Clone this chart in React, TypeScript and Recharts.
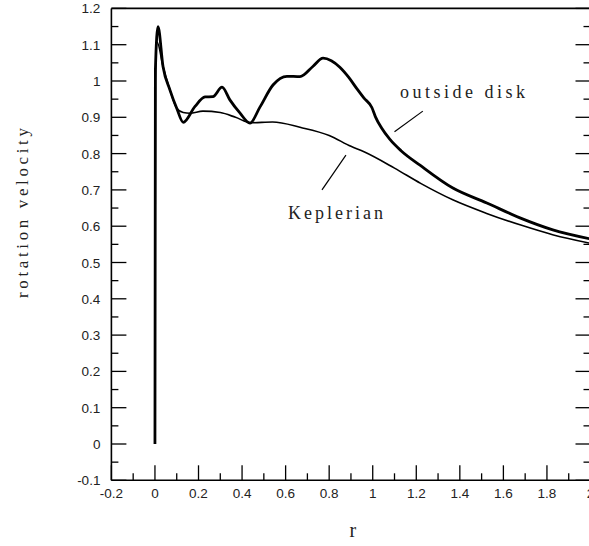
import React from 'react';
import { LineChart, Line, XAxis, YAxis, ReferenceLine, ReferenceDot } from 'recharts';

// [r, velocity]
const outsideDisk: [number, number][] = [
  [0, 0], [0.002, 1.03], [0.014, 1.15], [0.037, 1.04], [0.069, 0.975], [0.1, 0.925],
  [0.13, 0.886], [0.184, 0.93], [0.23, 0.956], [0.266, 0.957], [0.308, 0.983],
  [0.344, 0.948], [0.39, 0.912], [0.436, 0.884], [0.482, 0.928], [0.542, 0.989],
  [0.606, 1.013], [0.666, 1.012], [0.725, 1.04], [0.772, 1.063], [0.81, 1.056],
  [0.849, 1.038], [0.89, 1.01], [0.927, 0.979], [0.96, 0.953], [0.996, 0.927],
  [1.012, 0.902], [1.04, 0.871], [1.079, 0.839], [1.13, 0.808],
  [1.217, 0.768], [1.368, 0.705], [1.524, 0.664], [1.676, 0.623], [1.827, 0.59], [2.0, 0.565],
];

const keplerian: [number, number][] = [
  [0, 0], [0.002, 1.0], [0.01, 1.107], [0.037, 1.04], [0.069, 0.975], [0.1, 0.925],
  [0.13, 0.913], [0.16, 0.911], [0.22, 0.917], [0.3, 0.913], [0.37, 0.9], [0.44, 0.885],
  [0.54, 0.887], [0.67, 0.872], [0.8, 0.85], [0.9, 0.82], [0.96, 0.805], [1.1, 0.76],
  [1.22, 0.718], [1.37, 0.672], [1.52, 0.636], [1.68, 0.603], [1.83, 0.576], [2.0, 0.553],
];

const X_TICKS = [-0.2, -0.1, 0, 0.1, 0.2, 0.3, 0.4, 0.5, 0.6, 0.7, 0.8, 0.9, 1, 1.1, 1.2, 1.3, 1.4, 1.5, 1.6, 1.7, 1.8, 1.9, 2];
const Y_TICKS = [-0.1, -0.05, 0, 0.05, 0.1, 0.15, 0.2, 0.25, 0.3, 0.35, 0.4, 0.45, 0.5, 0.55, 0.6, 0.65, 0.7, 0.75, 0.8, 0.85, 0.9, 0.95, 1, 1.05, 1.1, 1.15, 1.2];

const toRows = (pts: [number, number][]) => pts.map(([r, v]) => ({ r, v }));
const outsideRows = toRows(outsideDisk);
const keplerRows = toRows(keplerian);

const isMajorX = (v: number) => Math.round(v * 10) % 2 === 0;
const isMajorY = (v: number) => Math.round(v * 20) % 2 === 0;
const fmt = (v: number) => String(Math.round(v * 10) / 10);

const MAJOR = 15;
const MINOR = 7;
const TICK_FONT = { fontFamily: '"Liberation Sans", Arial, sans-serif', fontSize: 13.5, fill: '#222' };
const SERIF = '"Liberation Serif", "DejaVu Serif", serif';

const BottomTick = ({ x, y, payload }: any) => {
  const major = isMajorX(payload.value);
  return (
    <g>
      <line x1={x} y1={y} x2={x} y2={y - (major ? MAJOR : MINOR)} stroke="#000" strokeWidth={1.3} />
      {major && (
        <text x={x} y={y + 18} textAnchor="middle" {...TICK_FONT}>{fmt(payload.value)}</text>
      )}
    </g>
  );
};

const TopTick = ({ x, y, payload }: any) => (
  <line x1={x} y1={y} x2={x} y2={y + (isMajorX(payload.value) ? MAJOR : MINOR)} stroke="#000" strokeWidth={1.3} />
);

const LeftTick = ({ x, y, payload }: any) => {
  const major = isMajorY(payload.value);
  return (
    <g>
      <line x1={x} y1={y} x2={x + (major ? MAJOR : MINOR)} y2={y} stroke="#000" strokeWidth={1.3} />
      {major && (
        <text x={x - 11} y={y + 5} textAnchor="end" {...TICK_FONT}>{fmt(payload.value)}</text>
      )}
    </g>
  );
};

const RightTick = ({ x, y, payload }: any) => (
  <line x1={x} y1={y} x2={x - (isMajorY(payload.value) ? MAJOR : MINOR)} y2={y} stroke="#000" strokeWidth={1.3} />
);

const note = (text: string, len: number) => (props: any) => {
  const vb = props.viewBox || {};
  return (
    <text x={vb.x} y={vb.y} fontFamily={SERIF} fontSize={18} fill="#222" textLength={len} lengthAdjust="spacing">
      {text}
    </text>
  );
};

const XLabel = (props: any) => {
  const vb = props.viewBox;
  return (
    <text x={vb.x + vb.width / 2 + 2} y={vb.y + vb.height - 9} textAnchor="middle" fontFamily={SERIF} fontSize={20} fill="#222">r</text>
  );
};

const YLabel = (props: any) => {
  const vb = props.viewBox;
  const cx = vb.x + 28;
  const cy = 213;
  return (
    <text x={cx} y={cy} transform={`rotate(-90, ${cx}, ${cy})`} textAnchor="middle" fontFamily={SERIF} fontSize={17} fill="#222" textLength={170} lengthAdjust="spacing">
      rotation velocity
    </text>
  );
};

export default function App() {
  return (
    <div style={{ position: 'absolute', left: 0, top: 0, width: 589, height: 546, overflow: 'hidden', background: '#fff' }}>
      <LineChart width={600} height={546} margin={{ top: 0, right: 0, bottom: 0, left: 0 }}>
        <XAxis
          xAxisId={0}
          dataKey="r"
          type="number"
          domain={[-0.2, 2]}
          ticks={X_TICKS}
          interval={0}
          allowDataOverflow
          height={65.7}
          tickSize={0}
          tickMargin={0}
          tickLine={false}
          axisLine={{ stroke: '#000', strokeWidth: 1.6 }}
          tick={<BottomTick />}
          label={<XLabel />}
        />
        <XAxis
          xAxisId="top"
          orientation="top"
          type="number"
          domain={[-0.2, 2]}
          ticks={X_TICKS}
          interval={0}
          allowDataOverflow
          height={8.4}
          tickSize={0}
          tickMargin={0}
          tickLine={false}
          axisLine={{ stroke: '#000', strokeWidth: 1.6 }}
          tick={<TopTick />}
        />
        <YAxis
          yAxisId={0}
          type="number"
          domain={[-0.1, 1.2]}
          ticks={Y_TICKS}
          interval={0}
          allowDataOverflow
          width={111.4}
          tickSize={0}
          tickMargin={0}
          tickLine={false}
          axisLine={{ stroke: '#000', strokeWidth: 1.6 }}
          tick={<LeftTick />}
          label={<YLabel />}
        />
        <YAxis
          yAxisId="right"
          orientation="right"
          type="number"
          domain={[-0.1, 1.2]}
          ticks={Y_TICKS}
          interval={0}
          allowDataOverflow
          width={9.5}
          tickSize={0}
          tickMargin={0}
          tickLine={false}
          axisLine={{ stroke: '#000', strokeWidth: 1.6 }}
          tick={<RightTick />}
        />
        <Line
          data={keplerRows}
          dataKey="v"
          type="monotone"
          stroke="#000"
          strokeWidth={1.6}
          dot={false}
          isAnimationActive={false}
        />
        <Line
          data={outsideRows}
          dataKey="v"
          type="monotone"
          stroke="#000"
          strokeWidth={2.8}
          dot={false}
          isAnimationActive={false}
        />
        <ReferenceLine segment={[{ x: 1.23, y: 0.917 }, { x: 1.1, y: 0.86 }]} stroke="#000" strokeWidth={1.2} />
        <ReferenceLine segment={[{ x: 0.877, y: 0.796 }, { x: 0.767, y: 0.7 }]} stroke="#000" strokeWidth={1.2} />
        <ReferenceDot x={1.125} y={0.953} r={0} fill="none" stroke="none" label={note('outside disk', 125)} />
        <ReferenceDot x={0.611} y={0.62} r={0} fill="none" stroke="none" label={note('Keplerian', 95)} />
      </LineChart>
    </div>
  );
}
